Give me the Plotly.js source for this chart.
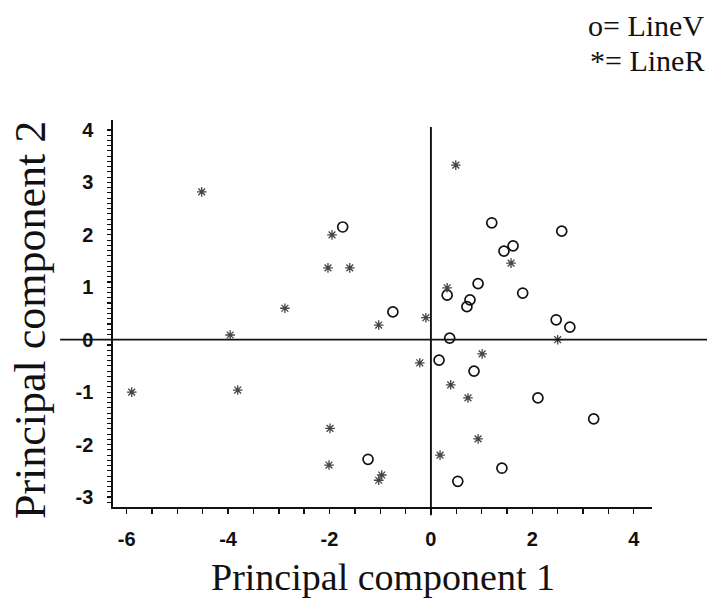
<!DOCTYPE html>
<html>
<head>
<meta charset="utf-8">
<script src="https://cdn.plot.ly/plotly-3.0.1.min.js"></script>
<style>html,body{margin:0;padding:0;background:#fff}#chart{width:707px;height:599px}</style>
</head>
<body>
<div id="chart"></div>
<script>
// LineV (open circles)
var lineV_x = [-1.74, 1.20, 2.58, 1.62, 1.44, 0.93, 1.81, 0.32, 0.77, 0.71, -0.75, 2.47, 2.74, 0.37, 0.16, 0.85, 2.11, 3.21, 1.40, 0.53, -1.24];
var lineV_y = [2.15, 2.23, 2.07, 1.79, 1.69, 1.07, 0.89, 0.85, 0.76, 0.63, 0.53, 0.38, 0.24, 0.03, -0.39, -0.60, -1.11, -1.51, -2.45, -2.70, -2.28];
// LineR (asterisks)
var lineR_x = [-4.52, -1.95, -2.03, -1.60, -2.88, -3.96, 0.49, 1.58, 0.32, -1.03, -0.10, 2.50, -0.22, 1.01, 0.39, 0.73, 0.93, 0.18, -0.97, -1.03, -5.90, -3.81, -1.99, -2.01];
var lineR_y = [2.82, 2.00, 1.37, 1.37, 0.60, 0.09, 3.33, 1.46, 0.99, 0.28, 0.42, 0.00, -0.44, -0.27, -0.86, -1.11, -1.89, -2.20, -2.58, -2.68, -1.00, -0.96, -1.69, -2.39];

var xTickVals = [-6, -4, -2, 0, 2, 4];
var xTickText = ['-6', '-4', '-2', '0', '2', '4'];
var yTickVals = [-3, -2, -1, 0, 1, 2, 3, 4];
var yTickText = ['-3', '-2', '-1', '0', '1', '2', '3', '4'];

var xRange = [-6.27, 4.36];
var yRange = [-3.19, 4.19];

// all tick positions (labelled majors plus unlabelled minors)
function buildTicks(lo, hi, step, majors, labels) {
  var vals = [], text = [];
  var n0 = Math.ceil(lo / step), n1 = Math.floor(hi / step);
  for (var k = n0; k <= n1; k++) {
    var v = Math.round(k * step * 1000) / 1000;
    var idx = majors.indexOf(v);
    vals.push(v);
    text.push(idx >= 0 ? labels[idx] : '');
  }
  return {vals: vals, text: text};
}
var xT = buildTicks(-6, 4, 0.5, xTickVals, xTickText);
var yT = buildTicks(-3.1, 4.1, 0.1, yTickVals, yTickText);

function px(v, r) { return (v - r[0]) / (r[1] - r[0]); }

var traces = [
  {
    x: lineV_x, y: lineV_y, mode: 'markers', type: 'scatter', name: 'LineV',
    marker: {symbol: 'circle-open', size: 10, color: '#111', line: {width: 1.7, color: '#111'}}
  },
  {
    x: lineR_x, y: lineR_y, mode: 'markers', type: 'scatter', name: 'LineR',
    marker: {symbol: 'asterisk-open', size: 8, color: '#444', line: {width: 1.3, color: '#444'}}
  }
];

var serif = 'Liberation Serif, Times New Roman, serif';

var layout = {
  width: 707, height: 599,
  margin: {l: 113, r: 55, t: 120, b: 92},
  paper_bgcolor: '#fff', plot_bgcolor: '#fff',
  showlegend: false,
  xaxis: {
    range: xRange, tickmode: 'array', tickvals: xT.vals, ticktext: xT.text,
    showgrid: false, zeroline: false, showline: true, linecolor: '#111', linewidth: 1.6,
    ticks: 'outside', ticklen: 5, tickwidth: 1.4, tickcolor: '#111',
    tickfont: {family: 'Liberation Sans, Arial, sans-serif', size: 20, color: '#111', weight: 700},
    ticklabelstandoff: 8
  },
  yaxis: {
    range: yRange, tickmode: 'array', tickvals: yT.vals, ticktext: yT.text,
    showgrid: false, zeroline: false, showline: true, linecolor: '#111', linewidth: 1.6,
    ticks: 'outside', ticklen: 4, tickwidth: 1.1, tickcolor: '#111',
    tickfont: {family: 'Liberation Sans, Arial, sans-serif', size: 20, color: '#111', weight: 700},
    ticklabelstandoff: 10
  },
  shapes: [
    {type: 'line', xref: 'paper', yref: 'paper', x0: -0.098, x1: 1.102, y0: px(0, yRange), y1: px(0, yRange), line: {color: '#111', width: 1.7}},
    {type: 'line', xref: 'paper', yref: 'paper', x0: px(0, xRange), x1: px(0, xRange), y0: -0.021, y1: 0.982, line: {color: '#111', width: 1.9}}
  ],
  annotations: [
    {text: 'Principal component 1', xref: 'paper', yref: 'paper', x: 0.5, y: -0.181, xanchor: 'center', yanchor: 'middle', showarrow: false, font: {family: serif, size: 38, color: '#111'}},
    {text: 'Principal component 2', xref: 'paper', yref: 'paper', x: -0.154, y: 0.483, xanchor: 'center', yanchor: 'middle', textangle: -90, showarrow: false, font: {family: serif, size: 44, color: '#111'}},
    {text: 'o= LineV', xref: 'paper', yref: 'paper', x: 1.1, y: 1.245, xanchor: 'right', yanchor: 'middle', showarrow: false, font: {family: serif, size: 30, color: '#111'}},
    {text: '*= LineR', xref: 'paper', yref: 'paper', x: 1.1, y: 1.153, xanchor: 'right', yanchor: 'middle', showarrow: false, font: {family: serif, size: 30, color: '#111'}}
  ]
};

Plotly.newPlot('chart', traces, layout, {displayModeBar: false, staticPlot: true});
</script>
</body>
</html>
